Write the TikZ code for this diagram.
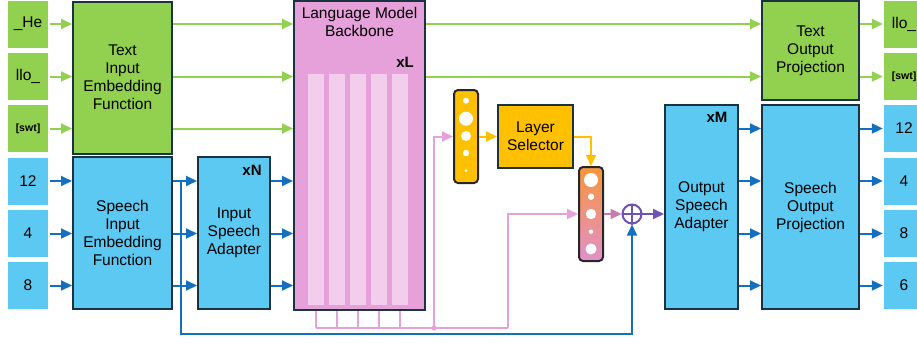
\documentclass[tikz,border=0pt]{standalone}
\usepackage{fontspec}
\setmainfont{Liberation Sans}
\usetikzlibrary{arrows.meta,calc}
\definecolor{cgreen}{HTML}{92D050}
\definecolor{cblue}{HTML}{5BC9F2}
\definecolor{cpink}{HTML}{E6A0DA}
\definecolor{tpink}{HTML}{F2CDEC}
\definecolor{cyellow}{HTML}{FFC000}
\definecolor{corange}{HTML}{F7953A}
\definecolor{cmauve}{HTML}{C97BAE}
\definecolor{cpurple}{HTML}{7052B4}
\definecolor{carrow}{HTML}{1370C0}
\definecolor{cline}{HTML}{1B3241}

\begin{document}
\begin{tikzpicture}[x=1pt, y=-1pt, font=\fontsize{15.5}{18}\selectfont,
  blk/.style={draw=cline, line width=2pt, align=center, inner sep=0pt},
  tok/.style={inner sep=0pt, minimum width=40pt, minimum height=47pt},
  tip/.style={-{Triangle[length=11pt,width=10pt]}},
  garrow/.style={cgreen, line width=2pt, tip},
  barrow/.style={carrow, line width=2pt, tip},
  parrow/.style={cpink, line width=2pt, tip},
  yarrow/.style={cyellow, line width=2pt, tip},
  vec/.style={draw=black!85, line width=2pt, rounded corners=4pt,
    minimum width=24pt, inner sep=0pt},
  bold/.style={font=\fontsize{15}{18}\selectfont\bfseries}]
  \clip (0,0) rectangle (917,343);
  % input tokens
  \node[tok, fill=cgreen] (inHe)  at (28,24)    {\_He};
  \node[tok, fill=cgreen] (inLlo) at (28,76.5)  {llo\_};
  \node[tok, fill=cgreen, font=\fontsize{10.5}{12}\selectfont\bfseries] (inSwt) at (28,128.5) {[swt]};
  \node[tok, fill=cblue]  (inA)   at (28,181)   {12};
  \node[tok, fill=cblue]  (inB)   at (28,233.5) {4};
  \node[tok, fill=cblue]  (inC)   at (28,285.5) {8};
  % output tokens
  \node[tok, fill=cgreen] (outLlo) at (904,24)    {llo\_};
  \node[tok, fill=cgreen, font=\fontsize{10.5}{12}\selectfont\bfseries] (outSwt) at (904,76.5) {[swt]};
  \node[tok, fill=cblue]  (outA)   at (904,128.5) {12};
  \node[tok, fill=cblue]  (outB)   at (904,181)   {4};
  \node[tok, fill=cblue]  (outC)   at (904,233.5) {8};
  \node[tok, fill=cblue]  (outD)   at (904,285.5) {6};
  % embeddings and adapters
  \node[blk, fill=cgreen, minimum width=99pt, minimum height=152pt] (tie) at (122.5,77.5)
    {Text\\Input\\Embedding\\Function};
  \node[blk, fill=cblue, minimum width=99pt, minimum height=152pt] (sie) at (122.5,233)
    {Speech\\Input\\Embedding\\Function};
  \node[blk, fill=cblue, minimum width=72pt, minimum height=152pt] (isa) at (234,233)
    {Input\\Speech\\Adapter};
  \node[bold] (xn) at (252,170) {xN};
  % backbone
  \node[blk, fill=cpink, minimum width=131pt, minimum height=309pt] (lmb) at (359.5,155.5) {};
  \node[align=center] (lmbt) at (359.5,22) {Language Model\\Backbone};
  \node[bold] (xl) at (405,62) {xL};
  \foreach \i in {1,...,5}
    \node[fill=tpink, minimum width=16pt, minimum height=231pt, inner sep=0pt]
      (col\i) at (295+21*\i,189.5) {};
  % layer selection
  \node[vec, fill=cyellow, minimum height=93pt] (lvec) at (466,136.5) {};
  \node[blk, fill=cyellow, minimum width=75pt, minimum height=63pt] (lsel) at (535.5,136.5)
    {Layer\\Selector};
  \node[vec, top color=corange, bottom color=cpink!90!purple, minimum height=94pt] (mvec) at (591,214) {};
  \foreach \yy/\rr in {100.7/3, 118.7/7, 136/5, 153/3.2, 170.7/1.5}
    \fill[white] (466,\yy) circle (\rr pt);
  \foreach \yy/\rr in {180/7, 196.7/3.2, 214/5.2, 231.7/2.2, 249/5.5}
    \fill[white] (591,\yy) circle (\rr pt);
  \node[circle, draw=cpurple, line width=2pt, minimum size=19pt, inner sep=0pt] (plus) at (632,214) {};
  \draw[cpurple, line width=2pt] (plus.north) -- (plus.south) (plus.west) -- (plus.east);
  % output side
  \node[blk, fill=cblue, minimum width=73pt, minimum height=204pt] (osa) at (701.5,207)
    {Output\\Speech\\Adapter};
  \node[bold] (xm) at (717,117) {xM};
  \node[blk, fill=cgreen, minimum width=97pt, minimum height=99pt] (top) at (810.5,50.5)
    {Text\\Output\\Projection};
  \node[blk, fill=cblue, minimum width=97pt, minimum height=204pt] (sop) at (810.5,207)
    {Speech\\Output\\Projection};
  % text path
  \foreach \t in {inHe,inLlo,inSwt} {
    \draw[garrow, shorten <=2pt] (\t) -- (\t -| tie.west);
    \draw[garrow] (tie.east |- \t) -- (lmb.west |- \t);
  }
  \draw[garrow] (lmb.east |- outLlo) -- (top.west |- outLlo);
  \draw[garrow] (lmb.east |- outSwt) -- (top.west |- outSwt);
  \foreach \t in {outLlo,outSwt}
    \draw[garrow, shorten >=1pt] (top.east |- \t) -- (\t.west);
  % speech path
  \foreach \t in {inA,inB,inC} {
    \draw[barrow, shorten <=2pt] (\t) -- (\t -| sie.west);
    \draw[barrow] (sie.east |- \t) -- (isa.west |- \t);
    \draw[barrow] (isa.east |- \t) -- (lmb.west |- \t);
  }
  \foreach \t in {outA,outB,outC,outD} {
    \draw[barrow] (osa.east |- \t) -- (sop.west |- \t);
    \draw[barrow, shorten >=1pt] (sop.east |- \t) -- (\t.west);
  }
  % hidden states of every layer
  \coordinate (tap) at (434,328);
  \coordinate (tapr) at (508,328);
  \foreach \i in {1,...,5}
    \draw[cpink, line width=2pt] (col\i |- lmb.south) -- (col\i |- tap);
  \draw[cpink, line width=2pt] (col1 |- tap) -- (tapr);
  \fill[cpink] (tap) circle (2.5pt);
  \draw[parrow] (tap) |- (lvec.west);
  \draw[parrow] (tapr) |- (mvec.west);
  \draw[yarrow] (lvec.east) -- (lsel.west);
  \draw[yarrow] (lsel.east) -| (mvec.north);
  \draw[cmauve, line width=2pt, tip] (mvec.east) -- (plus.west);
  \draw[cpurple, line width=2pt, tip] (plus.east) -- (plus.east -| osa.west);
  % residual from the speech embeddings
  \coordinate (skip) at (181,181);
  \draw[barrow] (skip) -- (181,334) -| (plus.south);
\end{tikzpicture}
\end{document}
